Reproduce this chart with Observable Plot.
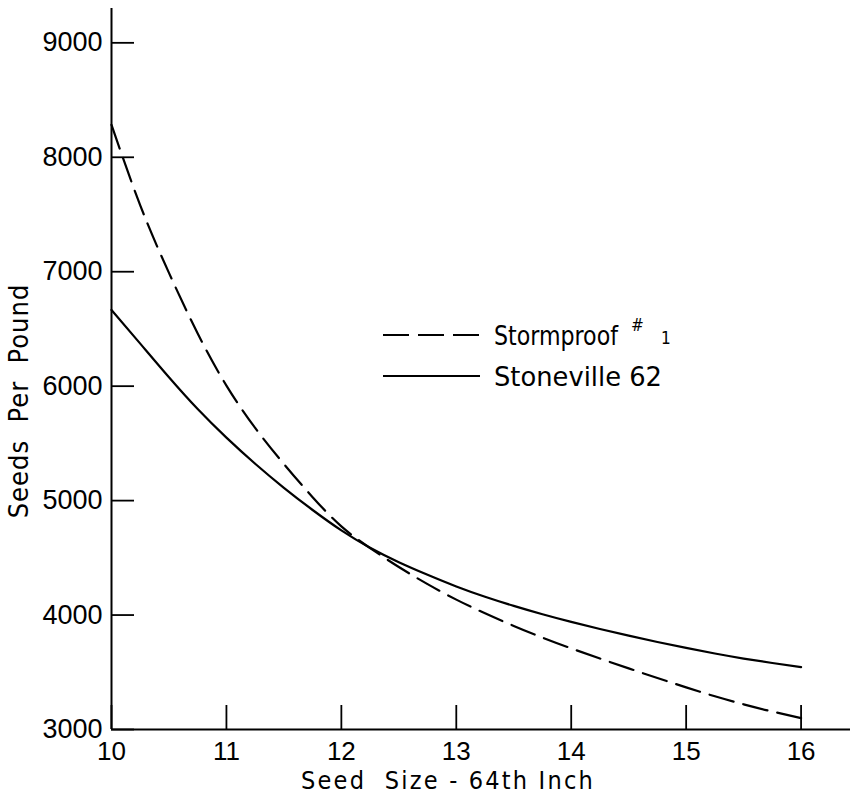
<!DOCTYPE html>
<html>
<head>
<meta charset="utf-8">
<script src="https://cdn.jsdelivr.net/npm/d3@7"></script>
<script src="https://cdn.jsdelivr.net/npm/@observablehq/plot@0.6"></script>
<style>
html, body { margin: 0; padding: 0; background: #fff; overflow: hidden; }
#chart { position: relative; width: 854px; height: 796px; }
</style>
</head>
<body>
<div id="chart"></div>
<script>
// ---- data ----
const seedSize = [10, 10.25, 10.5, 10.75, 11, 11.25, 11.5, 11.75, 12, 12.25, 12.5, 12.75, 13,
                  13.25, 13.5, 13.75, 14, 14.25, 14.5, 14.75, 15, 15.25, 15.5, 15.75, 16];
const stormproof = [8284, 7580, 6990, 6460, 6005, 5635, 5320, 5030, 4775, 4585, 4420, 4270, 4135,
                    4015, 3905, 3803, 3709, 3620, 3534, 3450, 3368, 3290, 3220, 3157, 3100];
const stoneville = [6666, 6372, 6078, 5800, 5550, 5322, 5112, 4918, 4740, 4588, 4462, 4352, 4250,
                    4160, 4080, 4007, 3940, 3878, 3820, 3765, 3713, 3664, 3620, 3581, 3545];
const seriesNames = ["Stormproof", "Stoneville 62"];
const xTicks = [10, 11, 12, 13, 14, 15, 16];
const yTicks = [3000, 4000, 5000, 6000, 7000, 8000, 9000];
const xTitle = "Seed  Size - 64th Inch";
const yTitle = "Seeds  Per  Pound";

const stormRows = seedSize.map((x, i) => ({x, y: stormproof[i], series: seriesNames[0]}));
const stoneRows = seedSize.map((x, i) => ({x, y: stoneville[i], series: seriesNames[1]}));

const font = "'Liberation Sans Narrow', 'DejaVu Sans Condensed', 'Liberation Sans', sans-serif";
const digitFont = "'Liberation Sans', Arial, sans-serif";

const chart = Plot.plot({
  width: 854,
  height: 796,
  marginLeft: 111,
  marginRight: 4,
  marginTop: 8,
  marginBottom: 67,
  style: {fontFamily: digitFont, fontSize: "27px", color: "#000", background: "#fff", overflow: "visible"},
  x: {domain: [10, 16.43]},
  y: {domain: [3000, 9300]},
  marks: [
    Plot.axisY(yTicks, {tickSize: -23, tickPadding: 32, strokeWidth: 1.8, label: null, fontSize: 27, tickFormat: d => String(d)}),
    Plot.axisX(xTicks, {tickSize: -24, tickPadding: 36, strokeWidth: 1.8, label: null, fontSize: 26, tickFormat: d => String(d)}),
    Plot.ruleX([xTicks[0]], {strokeWidth: 2}),
    Plot.ruleY([yTicks[0]], {strokeWidth: 2}),
    Plot.line(stormRows, {x: "x", y: "y", curve: "natural", stroke: "#000", strokeWidth: 2.2, strokeDasharray: "25,10"}),
    Plot.line(stoneRows, {x: "x", y: "y", curve: "natural", stroke: "#000", strokeWidth: 2.2}),
    Plot.text([xTitle], {frameAnchor: "bottom", textAnchor: "middle", dx: -33, dy: 42, lineAnchor: "top", fontSize: 25, fontFamily: font}),
    Plot.text([yTitle], {frameAnchor: "left", textAnchor: "middle", rotate: -90, dx: -92, dy: 32, lineAnchor: "middle", fontSize: 27, fontFamily: font})
  ]
});

document.getElementById("chart").appendChild(chart);

const svg = d3.select(chart);
svg.selectAll("text").filter(function() { return this.textContent === xTitle; })
  .style("letter-spacing", "2.2px").style("white-space", "pre");
svg.selectAll("text").filter(function() { return this.textContent === yTitle; })
  .style("letter-spacing", "1px").style("white-space", "pre");

// ---- legend inside the frame ----
const legend = svg.append("g")
  .attr("font-family", font).attr("font-size", 27).attr("fill", "#000")
  .attr("text-anchor", "start");
const items = [
  {name: seriesNames[0], dash: "26,9", y: 335, len: 124},
  {name: seriesNames[1], dash: null, y: 376, len: 168}
];
items.forEach((it, i) => {
  legend.append("line")
    .attr("x1", 383).attr("x2", 480).attr("y1", it.y).attr("y2", it.y)
    .attr("stroke", "#000").attr("stroke-width", 2)
    .attr("stroke-dasharray", it.dash);
  legend.append("text").attr("x", 494).attr("y", it.y + 10)
    .attr("textLength", it.len).attr("lengthAdjust", "spacingAndGlyphs")
    .style("white-space", "pre")
    .text(it.name);
  if (i === 0) {
    legend.append("text").attr("x", 631).attr("y", 331).attr("font-size", 17).text("#");
    legend.append("text").attr("x", 661).attr("y", 344).attr("font-size", 17).text("1");
  }
});
</script>
</body>
</html>
